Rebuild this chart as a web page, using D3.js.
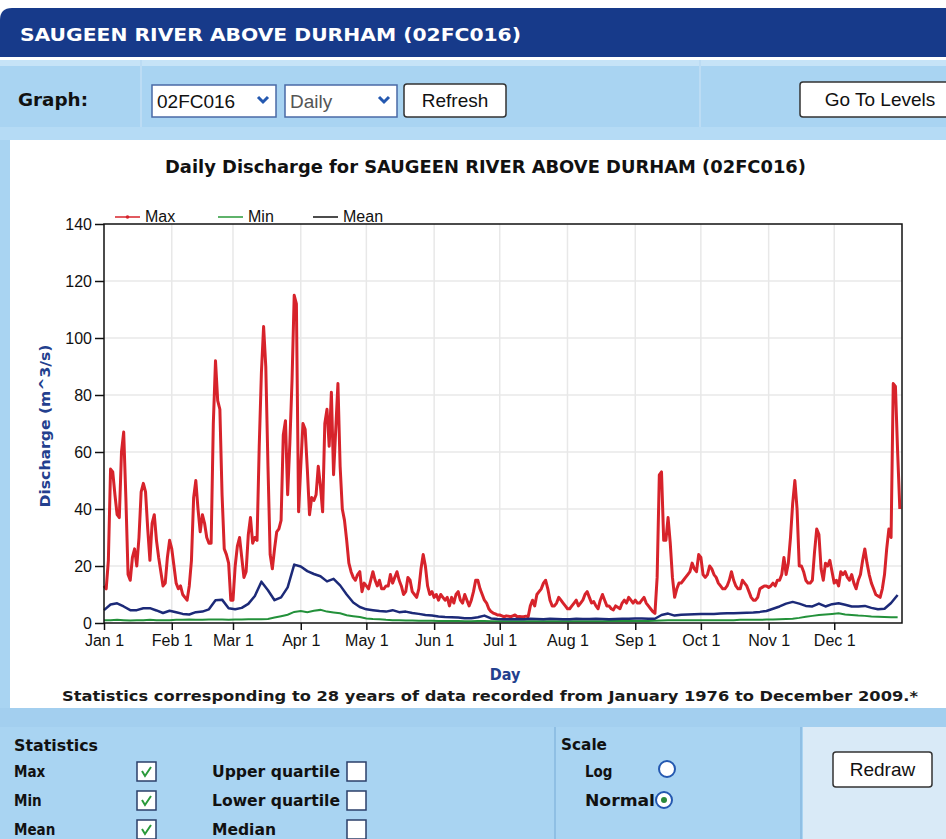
<!DOCTYPE html>
<html>
<head>
<meta charset="utf-8">
<script src="https://cdn.jsdelivr.net/npm/d3@7"></script>
<style>
  body { margin: 0; background: #fff; }
  svg { display: block; }
</style>
</head>
<body>
<svg id="page" width="946" height="839"></svg>
<script>
// daily maximum discharge, Jan 1 .. Dec 31 (m^3/s)
const maxFlow = [
  13,12,22,54,53,45,38,37,60,67,
  44,17,15,23,26,20,30,46,49,46,
  33,22,35,38,29,23,18,13,14,23,
  29,26,20,14,12,13,10,9,8,13,
  22,44,50,40,32,38,35,30,28,28,
  70,92,78,75,45,26,24,21,8,8,
  20,27,30,23,16,18,31,37,28,30,
  29,62,88,104,90,55,24,19,26,32,
  33,36,66,71,45,63,85,115,112,39,
  55,70,68,54,38,44,43,45,55,48,
  39,70,75,62,81,52,68,84,55,40,
  36,29,21,18,16,15,17,18,11,14,
  13,12,15,18,15,13,15,12,12,13,
  13,17,14,16,18,15,13,10,11,16,
  15,11,10,9,12,19,24,20,13,10,
  11,9,10,8,10,9,8,9,6,9,
  7,10,11,8,7,10,8,6,8,11,
  15,15,12,10,8,7,5,4,3.5,3.2,
  2.8,2.8,2.5,2.2,2.5,2.4,2.2,2.5,2.8,2.2,
  2.3,2.2,2.2,2.4,2.2,6,8,6,10,11,
  12,14,15,12,8,6,6,7,9,8,
  7,6,5,5,6,7,8,6,7,8,
  10,11,9,7,7.5,6,5,8,10,8,
  6,6,5,4.6,6,5.5,5,7,8,7,
  9,8,7,8,7,7,8,9,7,6,
  5,4,3.4,16,52,53,29,29,37,28,
  16,9,12,14,14,15,16,17,18,21,
  19,18,24,23,17,16,17,20,19,17,
  16,14,13,12,12,13,15,18,15,13,
  12,12,15,14,13,11,9,8,8,9,
  12,12.5,13,13,12.5,13,14,13,15,15,
  17,23,17,21,30,42,50,40,20,20,
  18,15,14,14,15,25,33,31,19,15,
  21,20,22,18,14,15,13,18,17,18,
  16,15,17,14,12,15,17,22,26,21,
  17,14,12,10,9.5,9,12,17,26,33,
  30,84,83,60,40
];

// mean and minimum, read every 3rd day
const statStep = 3;
const meanFlow = [
  4.5,6.5,6.9,5.8,4.5,4.5,5.2,5.2,4.4,3.5,
  4.3,3.8,3.2,3.0,3.8,4.0,4.8,8.0,8.2,5.2,
  4.8,5.3,6.7,9.5,14.5,11.5,8.0,9.0,12.5,20.5,
  19.8,18.2,17.2,16.4,14.6,15.5,13.2,10.0,7.2,5.6,
  4.8,4.5,4.2,4.0,4.5,3.8,4.0,3.5,3.2,2.8,
  2.6,2.3,2.1,2.0,1.9,1.7,1.7,2.0,2.6,1.6,
  1.4,1.3,1.3,1.4,1.3,1.5,1.4,1.3,1.5,1.4,
  1.3,1.3,1.5,1.4,1.4,1.5,1.4,1.3,1.4,1.5,
  1.5,1.6,1.6,1.5,1.5,2.8,3.3,2.6,2.9,3.0,
  3.1,3.2,3.2,3.2,3.3,3.4,3.4,3.5,3.6,3.7,
  3.9,4.2,5.0,5.8,6.8,7.4,6.8,6.0,5.8,6.8,
  5.8,6.6,6.9,6.4,5.8,5.8,6.0,5.3,4.8,5.0,
  7.0,9.8
];
const minFlow = [
  1.0,1.0,1.1,1.0,0.9,1.0,1.0,1.1,1.0,1.0,
  1.0,1.1,1.1,1.2,1.1,1.1,1.2,1.2,1.2,1.1,
  1.2,1.2,1.3,1.3,1.3,1.4,1.9,2.4,2.9,3.9,
  4.2,3.8,4.3,4.6,4.0,3.7,3.4,2.7,2.4,2.1,
  1.6,1.4,1.3,1.1,1.0,1.0,0.9,0.9,0.8,0.8,
  0.8,0.7,0.7,0.7,0.7,0.6,0.6,0.7,0.7,0.6,
  0.6,0.6,0.6,0.6,0.6,0.6,0.6,0.6,0.6,0.6,
  0.6,0.6,0.6,0.6,0.6,0.6,0.6,0.7,0.7,0.7,
  0.7,0.7,0.7,0.7,0.8,0.9,1.0,1.0,1.0,1.0,
  1.0,1.0,1.0,1.0,1.0,1.0,1.0,1.1,1.1,1.1,
  1.1,1.2,1.2,1.3,1.4,1.5,1.8,2.2,2.5,2.8,
  3.0,3.2,3.4,3.0,2.8,2.6,2.5,2.3,2.2,2.1,
  2.0,2.0
];

const monthStarts = [0, 31, 59, 90, 120, 151, 181, 212, 243, 273, 304, 334];
const monthLabels = ["Jan 1", "Feb 1", "Mar 1", "Apr 1", "May 1", "Jun 1",
                     "Jul 1", "Aug 1", "Sep 1", "Oct 1", "Nov 1", "Dec 1"];
const yTicks = [0, 20, 40, 60, 80, 100, 120, 140];
const legendItems = [
  {name: "Max", color: "#d7232b"},
  {name: "Min", color: "#2a9a3a"},
  {name: "Mean", color: "#111111"}
];
const statsLeft = [["Max", true], ["Min", true], ["Mean", true]];
const statsRight = ["Upper quartile", "Lower quartile", "Median"];

const svg = d3.select("#page");
const bold = "'DejaVu Sans', Verdana, sans-serif";
const boldNarrow = "'DejaVu Sans Condensed', 'DejaVu Sans', sans-serif";
const arial = "'Liberation Sans', Arial, sans-serif";

function fit(sel, w) { // squeeze/stretch text to the width seen in the picture
  return sel.attr("textLength", w).attr("lengthAdjust", "spacingAndGlyphs");
}

// ---------- page chrome ----------
svg.append("rect").attr("x", 0).attr("y", 60).attr("width", 946).attr("height", 779).attr("fill", "#a9d4f2");
svg.append("rect").attr("x", 0).attr("y", 60).attr("width", 946).attr("height", 6).attr("fill", "#c6e3f7");
svg.append("rect").attr("x", 0).attr("y", 127).attr("width", 946).attr("height", 13).attr("fill", "#b5dbf5");
[141, 700].forEach(x => svg.append("line")
  .attr("x1", x).attr("x2", x).attr("y1", 60).attr("y2", 127)
  .attr("stroke", "#bcdcf4").attr("stroke-width", 2));

// header bar
svg.append("path")
  .attr("d", "M0,57 V20 Q0,8 12,8 H946 V57 Z")
  .attr("fill", "#173a8a");
fit(svg.append("text")
  .attr("x", 20).attr("y", 41)
  .attr("fill", "#fff").attr("font-family", boldNarrow).attr("font-weight", "bold").attr("font-size", 18)
  .text("SAUGEEN RIVER ABOVE DURHAM (02FC016)"), 501);

// graph controls
fit(svg.append("text").attr("x", 18).attr("y", 106)
  .attr("font-family", boldNarrow).attr("font-weight", "bold").attr("font-size", 17).attr("fill", "#111")
  .text("Graph:"), 70);

function selectBox(x, w, label, col) {
  svg.append("rect").attr("x", x).attr("y", 85).attr("width", w).attr("height", 32)
    .attr("fill", "#fff").attr("stroke", "#4a6aa6").attr("stroke-width", 1.5);
  svg.append("text").attr("x", x + 5).attr("y", 108)
    .attr("font-family", arial).attr("font-size", 19).attr("fill", col).text(label);
  svg.append("path")
    .attr("d", `M${x + w - 18},97 l5,5 l5,-5`)
    .attr("fill", "none").attr("stroke", "#2458b0").attr("stroke-width", 3);
}
selectBox(152, 124, "02FC016", "#111");
selectBox(285, 112, "Daily", "#555");

function button(x, y, w, h, label) {
  svg.append("rect").attr("x", x).attr("y", y).attr("width", w).attr("height", h).attr("rx", 3)
    .attr("fill", "#fff").attr("stroke", "#333").attr("stroke-width", 1.5);
  svg.append("text").attr("x", x + w / 2).attr("y", y + h / 2 + 6.5)
    .attr("text-anchor", "middle").attr("font-family", arial).attr("font-size", 19).attr("fill", "#111")
    .text(label);
}
button(404, 84, 102, 33, "Refresh");
button(800, 82, 160, 35, "Go To Levels");

// white chart panel
svg.append("rect").attr("x", 10).attr("y", 140).attr("width", 936).attr("height", 568).attr("fill", "#fff");

// ---------- chart ----------
const x = d3.scaleLinear().domain([0, 365]).range([104, 902]);
const y = d3.scaleLinear().domain([0, 140]).range([623, 224]);

fit(svg.append("text")
  .attr("x", 165).attr("y", 173)
  .attr("font-family", boldNarrow)
  .attr("font-weight", "bold").attr("font-size", 18).attr("fill", "#111")
  .text("Daily Discharge for SAUGEEN RIVER ABOVE DURHAM (02FC016)"), 641);

// grid
const grid = svg.append("g").attr("stroke", "#e8e8e8").attr("stroke-width", 1.5);
grid.selectAll("line.h").data(yTicks.slice(1, -1)).join("line")
  .attr("x1", x(0)).attr("x2", x(365)).attr("y1", d => y(d)).attr("y2", d => y(d));
grid.selectAll("line.v").data(monthStarts.slice(1)).join("line")
  .attr("x1", d => x(d)).attr("x2", d => x(d)).attr("y1", y(0)).attr("y2", y(140));

// axes
const yAxis = svg.append("g").attr("transform", `translate(${x(0)},0)`)
  .call(d3.axisLeft(y).tickValues(yTicks).tickSize(9).tickPadding(3));
const xAxis = svg.append("g").attr("transform", `translate(0,${y(0)})`)
  .call(d3.axisBottom(x).tickValues(monthStarts).tickFormat((d, i) => monthLabels[i]).tickSize(7).tickPadding(5));
[yAxis, xAxis].forEach(a => {
  a.select(".domain").remove();
  a.selectAll("line").attr("stroke", "#111").attr("stroke-width", 1.5);
  a.selectAll("text").attr("font-family", arial).attr("font-size", 16).attr("fill", "#111");
});

// series
const lineDaily = d3.line().x((d, i) => x(i)).y(d => y(d));
const lineStat = d3.line().x((d, i) => x(i * statStep)).y(d => y(d));

svg.append("path").datum(maxFlow).attr("d", lineDaily)
  .attr("fill", "none").attr("stroke", "#d7232b").attr("stroke-width", 3).attr("stroke-linejoin", "round");
svg.append("path").datum(minFlow).attr("d", lineStat)
  .attr("fill", "none").attr("stroke", "#23913a").attr("stroke-width", 2);
svg.append("path").datum(meanFlow).attr("d", lineStat)
  .attr("fill", "none").attr("stroke", "#1c2a78").attr("stroke-width", 2.5).attr("stroke-linejoin", "round");

// plot frame
svg.append("rect").attr("x", x(0)).attr("y", y(140)).attr("width", x(365) - x(0)).attr("height", y(0) - y(140))
  .attr("fill", "none").attr("stroke", "#111").attr("stroke-width", 1.5);

// legend
const legendX = [115, 218, 313];
const legend = svg.append("g").selectAll("g").data(legendItems).join("g")
  .attr("transform", (d, i) => `translate(${legendX[i]},217)`);
legend.append("line").attr("x1", 0).attr("x2", 25).attr("stroke", d => d.color).attr("stroke-width", 1.5);
legend.filter(d => d.name === "Max").append("circle").attr("cx", 12.5).attr("r", 1.8).attr("fill", d => d.color);
legend.append("text").attr("x", 30).attr("y", 5)
  .attr("font-family", arial).attr("font-size", 16).attr("fill", "#111").text(d => d.name);

// axis titles
fit(svg.append("text")
  .attr("transform", "translate(50,426) rotate(-90)")
  .attr("text-anchor", "middle")
  .attr("font-family", bold).attr("font-weight", "bold").attr("font-size", 14).attr("fill", "#23408e")
  .text("Discharge (m^3/s)"), 163);
svg.append("text").attr("x", 505).attr("y", 680).attr("text-anchor", "middle")
  .attr("font-family", boldNarrow)
  .attr("font-weight", "bold").attr("font-size", 16).attr("fill", "#23408e").text("Day");
fit(svg.append("text").attr("x", 62).attr("y", 701)
  .attr("font-family", boldNarrow).attr("font-weight", "bold").attr("font-size", 14).attr("fill", "#1a1a1a")
  .text("Statistics corresponding to 28 years of data recorded from January 1976 to December 2009.*"), 856);

// ---------- bottom options panel ----------
svg.append("rect").attr("x", 0).attr("y", 708).attr("width", 946).attr("height", 19).attr("fill", "#a3cfef");
svg.append("rect").attr("x", 803).attr("y", 727).attr("width", 143).attr("height", 112).attr("fill", "#d9eaf7");
svg.append("line").attr("x1", 555).attr("x2", 555).attr("y1", 727).attr("y2", 839)
  .attr("stroke", "#8fbfe4").attr("stroke-width", 2);
svg.append("line").attr("x1", 801).attr("x2", 801).attr("y1", 727).attr("y2", 839)
  .attr("stroke", "#8fbfe4").attr("stroke-width", 2);

function label(x, yy, t, w) {
  const s = svg.append("text").attr("x", x).attr("y", yy)
    .attr("font-family", boldNarrow).attr("font-weight", "bold").attr("font-size", 15).attr("fill", "#111").text(t);
  if (w) fit(s, w);
  return s;
}
function checkbox(x, yy, checked) {
  svg.append("rect").attr("x", x).attr("y", yy).attr("width", 19).attr("height", 19)
    .attr("fill", "#fff").attr("stroke", "#2b3f6a").attr("stroke-width", 1.5);
  if (checked) svg.append("path").attr("d", `M${x + 5},${yy + 9} l3,5 l6,-9`)
    .attr("fill", "none").attr("stroke", "#2a9a3a").attr("stroke-width", 2);
}

label(14, 751, "Statistics", 84);
const rowY = [777, 806, 835];
statsLeft.forEach(([t, on], i) => {
  label(14, rowY[i], t);
  checkbox(137, rowY[i] - 15, on);
});
statsRight.forEach((t, i) => {
  label(212, rowY[i], t, t === "Median" ? 64 : 128);
  checkbox(347, rowY[i] - 15, false);
});

label(561, 750, "Scale", 46);
label(585, 777, "Log");
label(585, 806, "Normal", 70);
svg.append("circle").attr("cx", 667).attr("cy", 769).attr("r", 8)
  .attr("fill", "#fff").attr("stroke", "#2458b0").attr("stroke-width", 2);
svg.append("circle").attr("cx", 664).attr("cy", 800).attr("r", 8)
  .attr("fill", "#fff").attr("stroke", "#2458b0").attr("stroke-width", 2);
svg.append("circle").attr("cx", 664).attr("cy", 800).attr("r", 3).attr("fill", "#2a8a3a");

button(833, 752, 99, 35, "Redraw");
</script>
</body>
</html>
